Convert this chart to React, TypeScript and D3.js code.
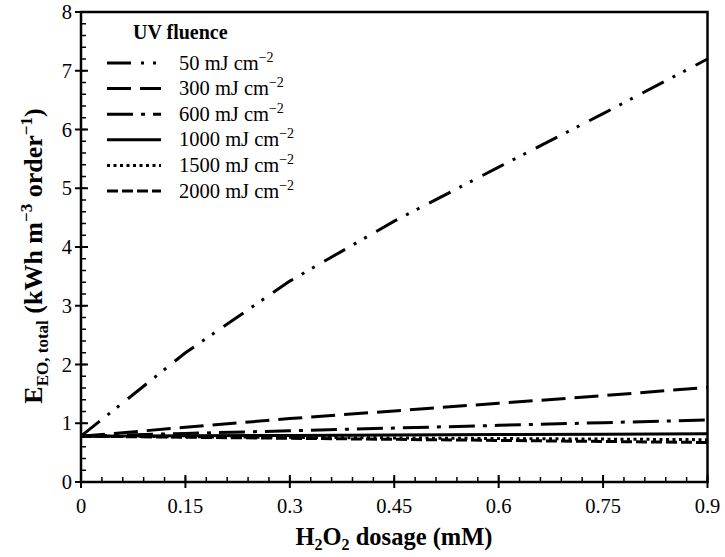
import React from "react";
import * as d3 from "d3";

const dosages = [0, 0.15, 0.3, 0.45, 0.6, 0.75, 0.9];
const uv50 = [0.78, 2.2, 3.42, 4.44, 5.36, 6.27, 7.2];
const uv300 = [0.78, 0.93, 1.08, 1.21, 1.34, 1.47, 1.61];
const uv600 = [0.78, 0.826, 0.872, 0.918, 0.964, 1.01, 1.055];
const uv1000 = [0.78, 0.787, 0.793, 0.8, 0.807, 0.813, 0.82];
const uv1500 = [0.78, 0.77, 0.76, 0.75, 0.74, 0.73, 0.72];
const uv2000 = [0.78, 0.762, 0.744, 0.726, 0.708, 0.69, 0.672];
const seriesLabels = ["50", "300", "600", "1000", "1500", "2000"];
const xTicks = [0, 0.15, 0.3, 0.45, 0.6, 0.75, 0.9];
const xTickLabels = ["0", "0.15", "0.3", "0.45", "0.6", "0.75", "0.9"];
const yTicks = [0, 1, 2, 3, 4, 5, 6, 7, 8];

const series = [uv50, uv300, uv600, uv1000, uv1500, uv2000];
const dashes = ["24,10,3,9,3,11", "24,9", "26,8,4,8", "none", "3,3.5", "11,4"];

const W = 725, H = 557;
const L = 81, R = 707.5, T = 12, B = 482;
const FONT = "'Liberation Serif', 'Times New Roman', serif";

export default function App() {
  const x = d3.scaleLinear().domain([0, 0.9]).range([L, R]);
  const y = d3.scaleLinear().domain([0, 8]).range([B, T]);
  const line = d3
    .line<number>()
    .x((_, i) => x(dosages[i]))
    .y((v) => y(v));
  const xMinor = d3.range(0, 0.9001, 0.03);
  const yMinor = d3.range(0, 8.001, 0.2);
  return (
    <svg width={W} height={H} style={{ position: "absolute", left: 0, top: 0, background: "#fff" }} fontFamily={FONT}>
      {xMinor.map((t, i) => (
        <line key={"xm" + i} x1={x(t)} x2={x(t)} y1={B} y2={B - 5} stroke="#000" strokeWidth={1.5} />
      ))}
      {yMinor.map((t, i) => (
        <line key={"ym" + i} x1={L} x2={L + 5} y1={y(t)} y2={y(t)} stroke="#000" strokeWidth={1.5} />
      ))}
      {xTicks.map((t, i) => (
        <g key={"xt" + i}>
          <line x1={x(t)} x2={x(t)} y1={B - 7} y2={B + 6} stroke="#000" strokeWidth={2} />
          <text x={x(t)} y={513} fontSize={20.5} textAnchor="middle">
            {xTickLabels[i]}
          </text>
        </g>
      ))}
      {yTicks.map((t, i) => (
        <g key={"yt" + i}>
          <line x1={L - 6} x2={L + 7} y1={y(t)} y2={y(t)} stroke="#000" strokeWidth={2} />
          <text x={72} y={y(t) + 7} fontSize={20.5} textAnchor="end">
            {t}
          </text>
        </g>
      ))}
      {series.map((s, i) => (
        <path
          key={"s" + i}
          d={line(s) || ""}
          fill="none"
          stroke="#000"
          strokeWidth={3}
          strokeDasharray={dashes[i]}
        />
      ))}
      <rect x={L} y={T} width={R - L} height={B - T} fill="none" stroke="#000" strokeWidth={2.5} />
      <text x={133} y={39} fontSize={20} fontWeight="bold">UV fluence</text>
      {seriesLabels.map((lab, i) => {
        const cy = 63 + i * 25.6;
        return (
          <g key={"lg" + i}>
            <line x1={107} x2={161} y1={cy} y2={cy} stroke="#000" strokeWidth={3} strokeDasharray={dashes[i]} />
            <text x={179} y={cy + 6.5} fontSize={20.5}>
              {lab} mJ cm
              <tspan fontSize={14} dy={-8}>−2</tspan>
            </text>
          </g>
        );
      })}
      <text x={394} y={545} fontSize={24.5} fontWeight="bold" textAnchor="middle">
        H<tspan fontSize={16} dy={5}>2</tspan>
        <tspan dy={-5}>O</tspan>
        <tspan fontSize={16} dy={5}>2</tspan>
        <tspan dy={-5}> dosage (mM)</tspan>
      </text>
      <text transform={`translate(42,256) rotate(-90)`} fontSize={26} fontWeight="bold" textAnchor="middle">
        E<tspan fontSize={17} dy={6}>EO, total</tspan>
        <tspan dy={-6}> (kWh m</tspan>
        <tspan fontSize={17} dy={-10}>−3</tspan>
        <tspan dy={10}> order</tspan>
        <tspan fontSize={17} dy={-10}>−1</tspan>
        <tspan dy={10}>)</tspan>
      </text>
    </svg>
  );
}
